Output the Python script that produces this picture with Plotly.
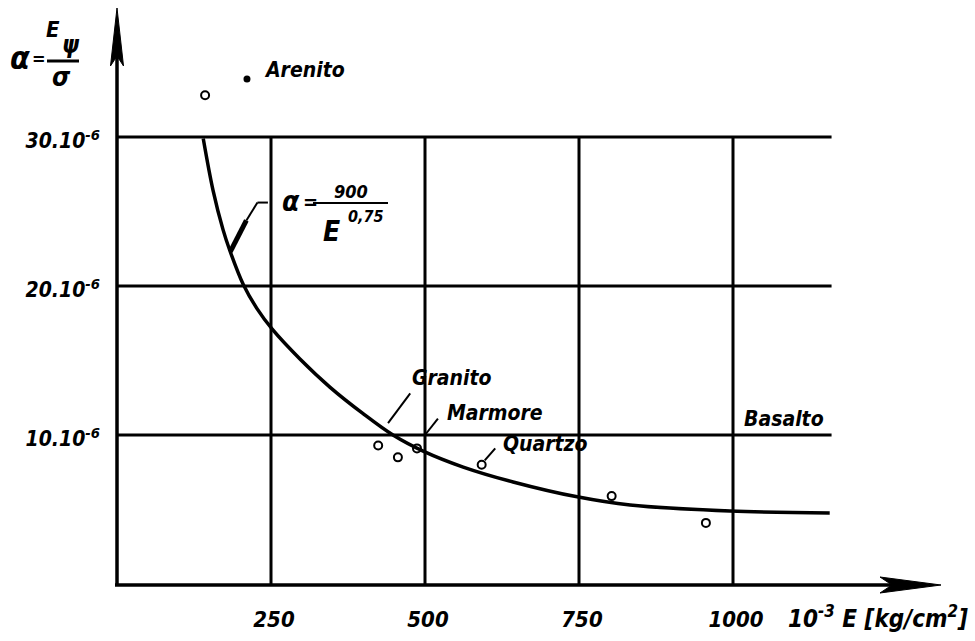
import plotly.graph_objects as go

# Fitted curve alpha = 900 / E^0.75 (alpha in 1e-6, E in 1e3 kg/cm2)
curve_E = [140, 156, 172, 183, 205, 227, 252, 297, 346, 399, 448, 497, 562, 643, 747, 833, 995, 1157]
curve_alpha = [29.9, 26.4, 23.8, 22.4, 20.1, 18.5, 17.1, 15.1, 13.2, 11.45, 10.0, 8.92, 7.85, 6.85,
               5.85, 5.3, 4.9, 4.77]

# Measured rocks (open circles)
rock_E = [143, 424, 456, 487, 592, 803, 956]
rock_alpha = [32.8, 9.3, 8.5, 9.1, 8.0, 5.9, 4.1]

# Arenito (filled dot)
arenito_E = [211]
arenito_alpha = [33.9]

x_ticks = [250, 500, 750, 1000]
x_tick_labels = ["250", "500", "750", "1000"]
y_ticks = [10, 20, 30]
y_tick_labels = ["10.10<sup>-6</sup>", "20.10<sup>-6</sup>", "30.10<sup>-6</sup>"]

grid_x_end = 1160
grid_y_top = 30

# ---- page geometry ----
W, H = 975, 641
L, R, T, B = 117, 35, 8, 57
PX_PER_E = 0.616
PX_PER_A = 14.9
PW, PH = W - L - R, H - T - B


def px(x):
    return (x - L) / PW


def py(y):
    return (H - B - y) / PH


FAMILY = "Liberation Sans Narrow, DejaVu Sans Condensed, Liberation Sans, sans-serif"


def font(size):
    return dict(family=FAMILY, size=size, color="black", weight="bold", style="italic")


fig = go.Figure()

fig.add_trace(go.Scatter(
    x=curve_E, y=curve_alpha, mode="lines",
    line=dict(color="black", width=3.5, shape="spline", smoothing=1.0),
    hoverinfo="skip", showlegend=False,
))
fig.add_trace(go.Scatter(
    x=rock_E, y=rock_alpha, mode="markers",
    marker=dict(symbol="circle-open", size=8, color="black", line=dict(width=2, color="black")),
    showlegend=False,
))
fig.add_trace(go.Scatter(
    x=arenito_E, y=arenito_alpha, mode="markers",
    marker=dict(symbol="circle", size=7, color="black"),
    showlegend=False,
))

shapes = []
# grid
for yv in y_ticks:
    shapes.append(dict(type="line", xref="x", yref="y", x0=0, x1=grid_x_end, y0=yv, y1=yv,
                       line=dict(color="black", width=3), layer="below"))
for xv in x_ticks:
    shapes.append(dict(type="line", xref="x", yref="y", x0=xv, x1=xv, y0=0, y1=grid_y_top,
                       line=dict(color="black", width=3), layer="below"))

# axes with arrows
shapes.append(dict(type="line", xref="paper", yref="paper", x0=px(117), x1=px(117),
                   y0=py(585), y1=py(30), line=dict(color="black", width=3.5)))
shapes.append(dict(type="line", xref="paper", yref="paper", x0=px(115), x1=px(900),
                   y0=py(585), y1=py(585), line=dict(color="black", width=3.5)))


def path(points):
    s = "M " + " L ".join(f"{px(a):.5f},{py(b):.5f}" for a, b in points) + " Z"
    return s


shapes.append(dict(type="path", xref="paper", yref="paper",
                   path=path([(110.5, 66), (117, 8), (123.5, 66), (117, 56)]),
                   fillcolor="black", line=dict(color="black", width=1)))
shapes.append(dict(type="path", xref="paper", yref="paper",
                   path=path([(880, 577), (941, 585), (880, 593), (892, 585)]),
                   fillcolor="black", line=dict(color="black", width=1)))

# leader lines for labels (data coordinates)
leaders = [
    ((440, 10.8), (476, 12.8)),   # Granito
    ((500, 10.0), (521, 11.1)),   # Marmore
    ((597, 8.3), (614, 9.1)),     # Quartzo
]
for (xa, ya), (xb, yb) in leaders:
    shapes.append(dict(type="line", xref="x", yref="y", x0=xa, y0=ya, x1=xb, y1=yb,
                       line=dict(color="black", width=2)))

# formula leader: thick stub then thin hook
shapes.append(dict(type="line", xref="x", yref="y", x0=184, y0=22.3, x1=210, y1=24.4,
                   line=dict(color="black", width=5)))
shapes.append(dict(type="line", xref="x", yref="y", x0=210, y0=24.4, x1=228, y1=25.6,
                   line=dict(color="black", width=2)))
shapes.append(dict(type="line", xref="x", yref="y", x0=228, y0=25.6, x1=245, y1=25.6,
                   line=dict(color="black", width=2)))

# formula fraction bar
shapes.append(dict(type="line", xref="paper", yref="paper", x0=px(313), x1=px(388),
                   y0=py(203), y1=py(203), line=dict(color="black", width=2)))
# y-axis title fraction bar
shapes.append(dict(type="line", xref="paper", yref="paper", x0=px(47), x1=px(79),
                   y0=py(61), y1=py(61), line=dict(color="black", width=3)))

annotations = []


def label(text, x, y, size, xanchor="left"):
    annotations.append(dict(text=text, x=x, y=y, xref="x", yref="y", showarrow=False,
                            xanchor=xanchor, yanchor="middle", font=font(size)))


def ptext(text, x, y, size, xanchor="center"):
    annotations.append(dict(text=text, x=px(x), y=py(y), xref="paper", yref="paper",
                            showarrow=False, xanchor=xanchor, yanchor="middle", font=font(size)))


label("Arenito", 235, 34.5, 21)
label("Granito", 476, 13.8, 21)
label("Marmore", 532, 11.5, 21)
label("Quartzo", 623, 9.4, 21)
label("Basalto", 1014, 11.1, 21)

# formula alpha = 900 / E^0,75
ptext("α", 291, 201, 28)
ptext("=", 310, 202, 20)
ptext("900", 351, 191, 18)
ptext("E", 331, 231, 28)
ptext("0,75", 366, 216, 16)

# y-axis title alpha = E_psi / sigma
ptext("α", 20, 58, 32)
ptext("=", 39, 59, 18)
ptext("E", 53, 29, 22)
ptext("ψ", 71, 45, 24)
ptext("σ", 61, 77, 26)

# x-axis title
ptext("10<sup>-3</sup> E [kg/cm<sup>2</sup>]", 878, 617, 24)

fig.update_layout(
    width=W, height=H,
    margin=dict(l=L, r=R, t=T, b=B, pad=0),
    paper_bgcolor="white", plot_bgcolor="white",
    shapes=shapes, annotations=annotations,
    xaxis=dict(range=[0, PW / PX_PER_E], showgrid=False, zeroline=False, showline=False,
               tickvals=x_ticks, ticktext=x_tick_labels, ticks="",
               tickfont=font(22), ticklabelstandoff=20, ticklabelshift=3,
               fixedrange=True),
    yaxis=dict(range=[0, PH / PX_PER_A], showgrid=False, zeroline=False, showline=False,
               tickvals=y_ticks, ticktext=y_tick_labels, ticks="",
               tickfont=font(21), ticklabelstandoff=16, ticklabelshift=4,
               fixedrange=True),
    showlegend=False,
)

fig.write_html("out.html")
